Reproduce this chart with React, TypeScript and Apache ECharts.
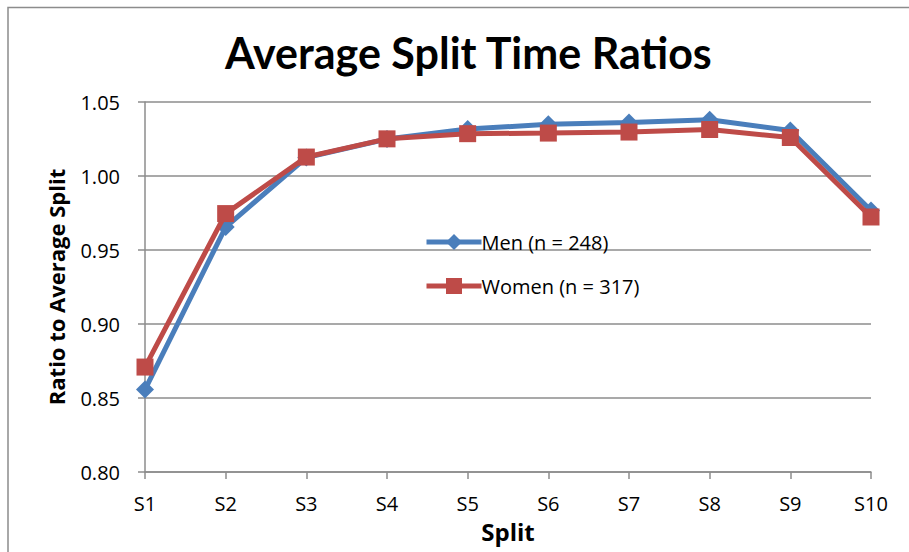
import React, { useEffect, useRef } from "react";
import * as echarts from "echarts";

const categories = ["S1", "S2", "S3", "S4", "S5", "S6", "S7", "S8", "S9", "S10"];
const menValues = [0.8557, 0.9655, 1.0125, 1.025, 1.0317, 1.0349, 1.0362, 1.038, 1.0307, 0.9767];
const womenValues = [0.8709, 0.9746, 1.0128, 1.0251, 1.0286, 1.029, 1.0297, 1.0314, 1.026, 0.9723];
const seriesNames = ["Men (n = 248)", "Women (n = 317)"];
const titleText = "Average Split Time Ratios";
const xName = "Split";
const yName = "Ratio to Average Split";

const FONT = "'Open Sans', sans-serif";
const TITLE_FONT = "Lato, 'Open Sans', sans-serif";

export default function App() {
  const ref = useRef<HTMLDivElement>(null);
  useEffect(() => {
    if (!ref.current) return;
    const chart = echarts.init(ref.current, null, { renderer: "svg" });
    chart.setOption({
      animation: false,
      backgroundColor: "#ffffff",
      textStyle: { fontFamily: FONT },
      title: {
        text: titleText,
        left: 220,
        top: 26,
        textStyle: { fontFamily: TITLE_FONT, fontSize: 43, fontWeight: "bold", color: "#000" },
      },
      graphic: [
        {
          type: "rect",
          shape: { x: 8, y: 7.5, width: 1200, height: 1200 },
          style: { fill: "none", stroke: "#8c8c8c", lineWidth: 1.5 },
          silent: true,
          z: 100,
        },
      ],
      legend: {
        orient: "vertical",
        left: 419,
        top: 227,
        itemWidth: 55,
        itemHeight: 20,
        itemGap: 24,
        lineStyle: { width: 5 },
        textStyle: { fontFamily: FONT, fontSize: 20, lineHeight: 20, color: "#000", padding: [0, 0, 0, -5] },
        data: seriesNames,
      },
      grid: { left: 145, right: 38, top: 102, bottom: 80, containLabel: false },
      xAxis: {
        type: "category",
        data: categories,
        boundaryGap: false,
        name: xName,
        nameLocation: "middle",
        nameGap: 47,
        nameTextStyle: { fontFamily: FONT, fontSize: 24, fontWeight: "bold", color: "#000" },
        axisLine: { lineStyle: { color: "#8c8c8c", width: 1.5 } },
        axisTick: { show: true, length: 7, alignWithLabel: true, lineStyle: { color: "#8c8c8c", width: 1.5 } },
        axisLabel: { fontFamily: FONT, fontSize: 20, color: "#000", margin: 21 },
        splitLine: { show: false },
      },
      yAxis: {
        type: "value",
        min: 0.8,
        max: 1.05,
        interval: 0.05,
        name: yName,
        nameLocation: "middle",
        nameGap: 78,
        nameRotate: 90,
        nameTextStyle: { fontFamily: FONT, fontSize: 22, fontWeight: "bold", color: "#000" },
        axisLine: { show: true, lineStyle: { color: "#8c8c8c", width: 1.5 } },
        axisTick: { show: true, length: 7, lineStyle: { color: "#8c8c8c", width: 1.5 } },
        axisLabel: {
          fontFamily: FONT,
          fontSize: 20,
          color: "#000",
          margin: 25,
          formatter: (v: number) => v.toFixed(2),
        },
        splitLine: { show: true, lineStyle: { color: "#8c8c8c", width: 1.5 } },
      },
      series: [
        {
          name: seriesNames[0],
          type: "line",
          data: menValues,
          symbol: "diamond",
          symbolSize: 18,
          color: "#4a7ebb",
          lineStyle: { width: 5, color: "#4a7ebb" },
          itemStyle: { color: "#4a7ebb" },
          z: 2,
        },
        {
          name: seriesNames[1],
          type: "line",
          data: womenValues,
          symbol: "rect",
          symbolSize: 17,
          color: "#be4b48",
          lineStyle: { width: 5, color: "#be4b48" },
          itemStyle: { color: "#be4b48" },
          z: 3,
        },
      ],
    });
    return () => chart.dispose();
  }, []);
  return (
    <div
      ref={ref}
      style={{ position: "fixed", left: 0, top: 0, width: 909, height: 552 }}
    />
  );
}
